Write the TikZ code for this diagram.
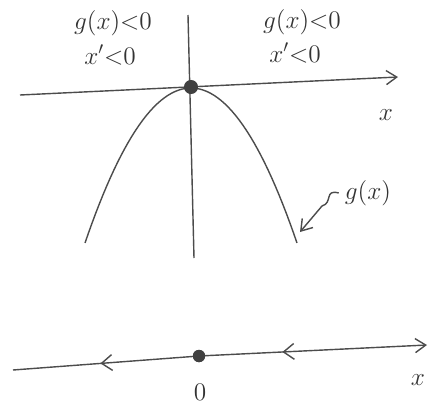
\documentclass[tikz,border=0pt]{standalone}
\usetikzlibrary{arrows.meta,decorations.markings}
\begin{document}
\begin{tikzpicture}[x=0.02cm,y=-0.02cm,
  pen/.style={draw=black!70,line width=0.8pt},
  tip/.style={-{Straight Barb[length=6pt,width=8pt]}},
  dot/.style={circle,fill=black!75,inner sep=0pt,minimum size=#1},
  lbl/.style={text=black!80,font=\Large}]
\useasboundingbox (0,0) rectangle (437,410);
% phase plane
\coordinate (AL) at (20,95); \coordinate (AR) at (398,77);
\coordinate (VT) at (188,15); \coordinate (VB) at (194,258);
\draw[pen,tip] (AL)--(AR);
\draw[pen] (VT)--(VB);
\draw[pen] plot[domain=-106:106,samples=60] ({191+\x},{88+0.0138*\x*\x});
\node[dot=8pt] (E) at (191,87) {};
\node[lbl] (gl) at (113,23) {$g(x){<}0$};
\node[lbl] (vl) at (110,55) {$x'{<}0$};
\node[lbl] (gr) at (302,22) {$g(x){<}0$};
\node[lbl] (vr) at (295,53) {$x'{<}0$};
\node[lbl] (xa) at (386,115) {$x$};
\node[lbl] (gn) at (368,193) {$g(x)$};
\coordinate (gt) at (300,232);
\draw[pen,tip] (gn.west) .. controls (324,189) and (333,203) .. (322,206) -- (gt);
% phase line
\coordinate (PL) at (13,370); \coordinate (PR) at (427,345);
\node[dot=7pt] (O) at (199,356) {};
\draw[pen,postaction={decorate},decoration={markings,mark=at position 0.53 with {\arrow{Straight Barb[length=6pt,width=9pt]}}}] (O.center)--(PL);
\draw[pen,tip,postaction={decorate},decoration={markings,mark=at position 0.42 with {\arrow{Straight Barb[length=6pt,width=9pt,reversed]}}}] (O.center)--(PR);
\node[dot=7pt] at (O) {};
\node[lbl] (zero) at (200,392) {$0$};
\node[lbl] (xb) at (418,380) {$x$};
\end{tikzpicture}
\end{document}
